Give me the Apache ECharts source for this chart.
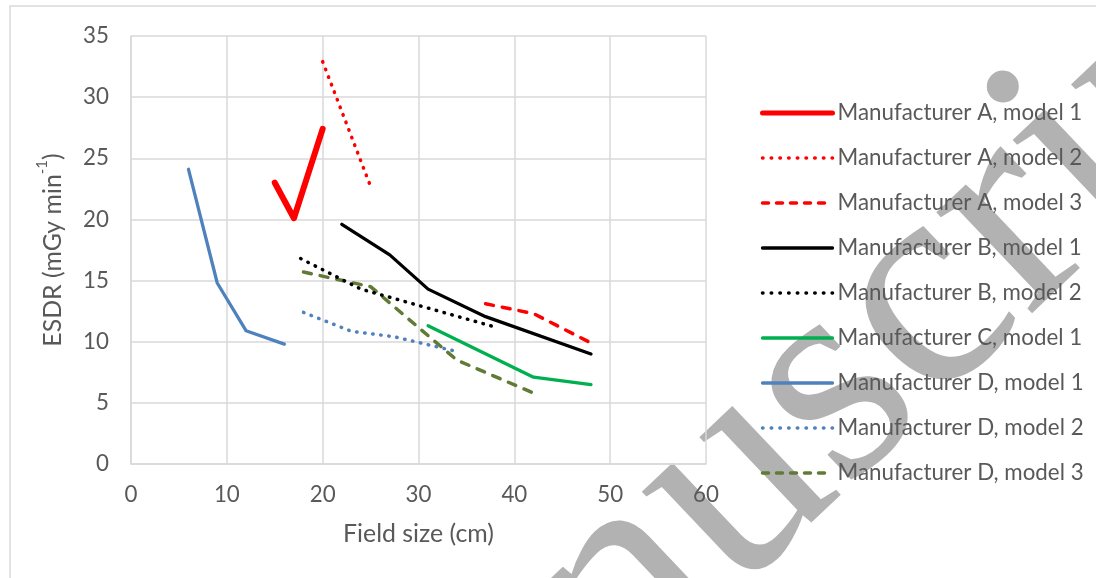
<!DOCTYPE html>
<html>
<head>
<meta charset="utf-8">
<script src="https://cdn.jsdelivr.net/npm/echarts@6/dist/echarts.min.js"></script>
<style>
  html, body { margin: 0; padding: 0; background: #ffffff; }
  #chart { width: 1096px; height: 578px; }
</style>
</head>
<body>
<div id="chart"></div>
<script>
// ---- Data ----
const xTicks = [0, 10, 20, 30, 40, 50, 60];
const yTicks = [0, 5, 10, 15, 20, 25, 30, 35];
const xTitle = 'Field size (cm)';
const yTitleMain = 'ESDR (mGy min';
const yTitleSup = '-1';
const seriesNames = [
  'Manufacturer A, model 1',
  'Manufacturer A, model 2',
  'Manufacturer A, model 3',
  'Manufacturer B, model 1',
  'Manufacturer B, model 2',
  'Manufacturer C, model 1',
  'Manufacturer D, model 1',
  'Manufacturer D, model 2',
  'Manufacturer D, model 3'
];
const a1 = [[15, 23.0], [17, 20.1], [20, 27.4]];
const a2 = [[20, 32.9], [25, 22.7]];
const a3 = [[37, 13.1], [42, 12.3], [48, 9.9]];
const b1 = [[22, 19.6], [27, 17.1], [31, 14.3], [37, 12.05], [48, 9.0]];
const b2 = [[17.7, 16.8], [24, 14.3], [38, 11.2]];
const c1 = [[31, 11.3], [42, 7.1], [48, 6.5]];
const d1 = [[6, 24.1], [9, 14.8], [12, 10.9], [16, 9.8]];
const d2 = [[18, 12.4], [23, 10.85], [27.5, 10.4], [34, 9.2]];
const d3 = [[18, 15.7], [25, 14.5], [34, 8.5], [42, 5.8]];
const seriesData = [a1, a2, a3, b1, b2, c1, d1, d2, d3];
const watermarkText = 'Manuscript';

// ---- Styles ----
const DOT = [0.5, 7.6], DASH = [8, 9];
const LDOT = [0.5, 8.2], LDASH = [6, 8];
const styles = [
  { color: '#FF0000', width: 6,   type: 'solid', ltype: 'solid', lwidth: 5 },
  { color: '#FF0000', width: 3.5, type: DOT,     ltype: LDOT,    lwidth: 3.5 },
  { color: '#FF0000', width: 3.5, type: DASH,    ltype: LDASH,   lwidth: 3.5 },
  { color: '#000000', width: 3.3, type: 'solid', ltype: 'solid', lwidth: 3.3 },
  { color: '#000000', width: 3.5, type: DOT,     ltype: LDOT,    lwidth: 3.5 },
  { color: '#00B050', width: 3.3, type: 'solid', ltype: 'solid', lwidth: 3.3 },
  { color: '#4F81BD', width: 3.3, type: 'solid', ltype: 'solid', lwidth: 3.3 },
  { color: '#4F81BD', width: 3.5, type: DOT,     ltype: LDOT,    lwidth: 3.5 },
  { color: '#617A35', width: 3.5, type: DASH,    ltype: LDASH,   lwidth: 3.5 }
];

const FONT = 'Lato';
function fitSize(str, targetWidth) {
  const c = document.createElement('canvas').getContext('2d');
  c.font = '100px ' + FONT;
  return 100 * targetWidth / c.measureText(str).width;
}
const legendSize = fitSize('Manufacturer A, model 1', 245);
const titleSize = fitSize('Field size (cm)', 151);
const tickSize = legendSize;
const textColor = '#595959';
const gridColor = '#D9D9D9';

const chart = echarts.init(document.getElementById('chart'), null, { renderer: 'canvas' });

const option = {
  animation: false,
  backgroundColor: '#ffffff',
  textStyle: { fontFamily: FONT },
  grid: { left: 131, top: 36, width: 575, height: 428, containLabel: false },
  xAxis: {
    type: 'value',
    min: xTicks[0], max: xTicks[xTicks.length - 1], interval: xTicks[1] - xTicks[0],
    name: xTitle, nameLocation: 'middle', nameGap: 57,
    nameTextStyle: { fontFamily: FONT, fontSize: titleSize, color: textColor },
    axisLine: { show: true, lineStyle: { color: gridColor, width: 1.5 } },
    axisTick: { show: false },
    axisLabel: { fontFamily: FONT, fontSize: tickSize, color: textColor, margin: 20 },
    splitLine: { show: true, lineStyle: { color: gridColor, width: 1.5 } }
  },
  yAxis: {
    type: 'value',
    min: yTicks[0], max: yTicks[yTicks.length - 1], interval: yTicks[1] - yTicks[0],
    name: '{a|' + yTitleMain + '}{s|' + yTitleSup + '}{a|)}',
    nameLocation: 'middle', nameGap: 66,
    nameTextStyle: {
      color: textColor,
      rich: {
        a: { fontFamily: FONT, fontSize: titleSize, color: textColor, lineHeight: 30, verticalAlign: 'bottom' },
        s: { fontFamily: FONT, fontSize: titleSize * 0.6, color: textColor, lineHeight: 30, verticalAlign: 'top' }
      }
    },
    axisLine: { show: true, lineStyle: { color: gridColor, width: 1.5 } },
    axisTick: { show: false },
    axisLabel: { fontFamily: FONT, fontSize: tickSize, color: textColor, margin: 22 },
    splitLine: { show: true, lineStyle: { color: gridColor, width: 1.5 } }
  },
  legend: {
    orient: 'vertical',
    left: 760, top: 101, padding: 0,
    itemWidth: 70, itemHeight: 14, itemGap: 21,
    selectedMode: false,
    textStyle: { fontFamily: FONT, fontSize: legendSize, color: textColor, lineHeight: 24 },
    data: seriesNames.map((n, i) => ({
      name: n,
      itemStyle: { opacity: 0, borderWidth: 0 },
      lineStyle: { color: styles[i].color, width: styles[i].lwidth, type: styles[i].ltype, cap: 'round' }
    }))
  },
  series: seriesNames.map((n, i) => ({
    name: n,
    type: 'line',
    data: seriesData[i],
    symbol: 'none',
    showSymbol: false,
    silent: true,
    z: 10 - i,
    lineStyle: { color: styles[i].color, width: styles[i].width, type: styles[i].type, cap: 'round', join: 'round' },
    itemStyle: { color: styles[i].color },
    emphasis: { disabled: true }
  })),
  graphic: [
    {
      type: 'rect', z: -2, silent: true,
      shape: { x: 10, y: 6, width: 1100, height: 600 },
      style: { fill: 'none', stroke: gridColor, lineWidth: 1.5 }
    },
    {
      type: 'text', z: -1, silent: true,
      x: 277, y: 920, rotation: 43.5 * Math.PI / 180,
      style: {
        text: watermarkText,
        font: 'normal 303px "Liberation Serif"',
        fill: '#B2B2B2',
        align: 'left', verticalAlign: 'middle',
        textAlign: 'left', textVerticalAlign: 'middle'
      }
    }
  ]
};
chart.setOption(option);
</script>
</body>
</html>
